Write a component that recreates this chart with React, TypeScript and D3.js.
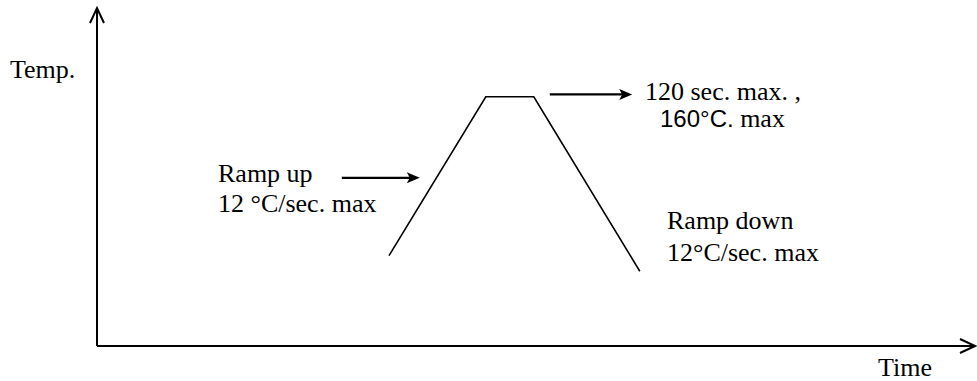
import React from "react"
import * as d3 from "d3"

// reflow profile: schematic time / temperature points
const profileTime = [730, 972, 1092, 1357]
const profileTemp = [58, 160, 160, 48]

// annotation arrows (time start, time end, temp)
const rampArrow = [612, 807, 108]
const holdArrow = [1132, 1338, 161.5]

const axisLabels = ["Temp.", "Time"]
const rampUpLines = ["Ramp up", "12 °C/sec. max"]
const rampDownLines = ["Ramp down", "12°C/sec. max"]
const holdLines = ["120 sec. max. ,", "160°C.", " max"]

const serif = "'Liberation Serif', 'Times New Roman', serif"
const sans = "'Liberation Sans', Arial, sans-serif"

export default function App() {
  const ref = React.useRef<SVGSVGElement>(null)

  React.useEffect(() => {
    const width = 977
    const height = 381
    const origin = { x: 97, y: 346 }

    const x = d3.scaleLinear().domain([0, 2195]).range([origin.x, 975])
    const y = d3.scaleLinear().domain([0, 217]).range([origin.y, 8])

    const svg = d3.select(ref.current)
    svg.selectAll("*").remove()
    svg.attr("width", width).attr("height", height)

    // axes
    svg.append("path")
      .attr("d", `M${x(0)},${y(0)}V${y(217)}M${x(0)},${y(0)}H${x(2195)}`)
      .attr("fill", "none")
      .attr("stroke", "#000")
      .attr("stroke-width", 2)
    // open arrow heads
    svg.append("path")
      .attr("d", `M${x(0) - 7},${y(217) + 15}L${x(0)},${y(217)}L${x(0) + 7},${y(217) + 15}`
        + `M${x(2195) - 15},${y(0) - 7}L${x(2195)},${y(0)}L${x(2195) - 15},${y(0) + 7}`)
      .attr("fill", "none")
      .attr("stroke", "#000")
      .attr("stroke-width", 2)

    // profile
    const line = d3.line<number>()
      .x((d, i) => x(profileTime[i]))
      .y((d) => y(d))
    svg.append("path")
      .datum(profileTemp)
      .attr("d", line)
      .attr("fill", "none")
      .attr("stroke", "#000")
      .attr("stroke-width", 1.6)

    // annotation arrows
    const arrow = (a: number[]) => {
      const x0 = x(a[0]), x1 = x(a[1]), yy = y(a[2])
      svg.append("line")
        .attr("x1", x0).attr("x2", x1 - 8)
        .attr("y1", yy).attr("y2", yy)
        .attr("stroke", "#000").attr("stroke-width", 2.2)
      svg.append("path")
        .attr("d", `M${x1},${yy}L${x1 - 13},${yy - 5.5}L${x1 - 10},${yy}L${x1 - 13},${yy + 5.5}Z`)
        .attr("fill", "#000")
    }
    arrow(rampArrow)
    arrow(holdArrow)

    const text = (s: string, tx: number, ty: number, font = serif) =>
      svg.append("text")
        .attr("x", tx).attr("y", ty)
        .attr("font-family", font)
        .attr("font-size", 26)
        .attr("fill", "#000")
        .attr("xml:space", "preserve")
        .text(s)

    text(axisLabels[0], 10, 78)
    text(axisLabels[1], 878, 376)
    text(rampUpLines[0], 218, 182)
    text(rampUpLines[1], 218, 212)
    text(rampDownLines[0], 667, 229)
    text(rampDownLines[1], 667, 261)
    text(holdLines[0], 645, 100)
    const t = svg.append("text")
      .attr("x", 660).attr("y", 127)
      .attr("font-size", 26)
      .attr("fill", "#000")
      .attr("xml:space", "preserve")
    t.append("tspan").attr("font-family", sans).attr("font-size", 24).text(holdLines[1])
    t.append("tspan").attr("font-family", serif).text(holdLines[2])
  }, [])

  return <svg ref={ref} style={{ position: "absolute", left: 0, top: 0 }} />
}
